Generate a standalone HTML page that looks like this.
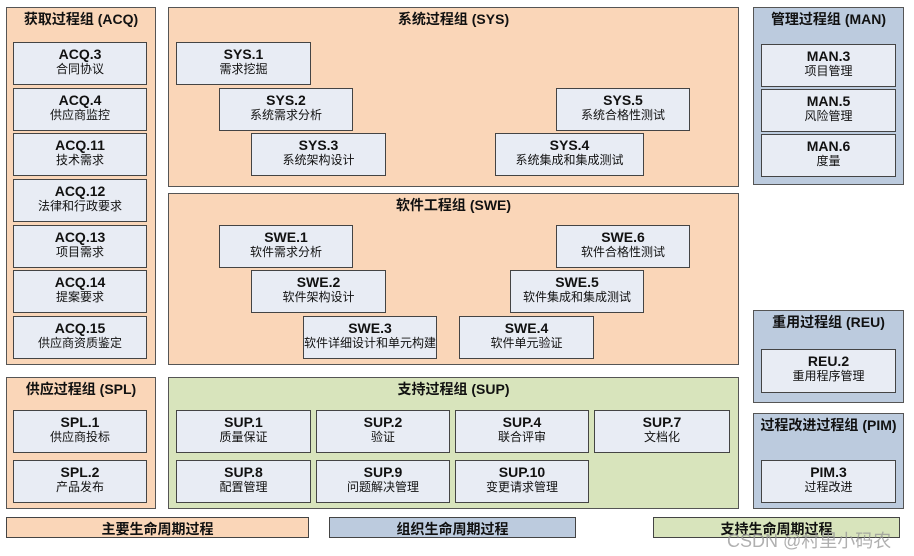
<!DOCTYPE html>
<html><head><meta charset="utf-8"><style>
body{margin:0;width:914px;height:556px;background:#fff;position:relative;overflow:hidden;font-family:"Liberation Sans","Noto Sans CJK SC",sans-serif;}
.g{position:absolute;border:1.5px solid #555;box-sizing:border-box;}
.o{background:#fad6b8}.b{background:#bccbde}.gr{background:#d8e4bc}
.t{position:absolute;left:0;right:0;top:1px;text-align:center;font-weight:bold;font-size:14px;color:#111}
.x{position:absolute;background:#e8ecf4;border:1.5px solid #444;box-sizing:border-box;text-align:center;color:#111;}
.x b{display:block;font-size:14px;margin-top:3px;line-height:16px}
.x span{display:block;font-size:12px;line-height:14px}
.l{position:absolute;border:1.5px solid #444;box-sizing:border-box;text-align:center;font-weight:bold;font-size:14px;line-height:22px;color:#111}
</style></head><body>
<div class="g o" style="left:6px;top:7px;width:150px;height:358px"><div class="t">获取过程组 (ACQ)</div></div>
<div class="g o" style="left:168px;top:7px;width:571px;height:180px"><div class="t">系统过程组 (SYS)</div></div>
<div class="g o" style="left:168px;top:193px;width:571px;height:172px"><div class="t">软件工程组 (SWE)</div></div>
<div class="g b" style="left:753px;top:7px;width:151px;height:178px"><div class="t">管理过程组 (MAN)</div></div>
<div class="g b" style="left:753px;top:310px;width:151px;height:93px"><div class="t">重用过程组 (REU)</div></div>
<div class="g b" style="left:753px;top:413px;width:151px;height:96px"><div class="t">过程改进过程组 (PIM)</div></div>
<div class="g o" style="left:6px;top:377px;width:150px;height:132px"><div class="t">供应过程组 (SPL)</div></div>
<div class="g gr" style="left:168px;top:377px;width:571px;height:132px"><div class="t">支持过程组 (SUP)</div></div>

<div class="x" style="left:13px;top:42px;width:134px;height:43px"><b>ACQ.3</b><span>合同协议</span></div>
<div class="x" style="left:13px;top:88px;width:134px;height:43px"><b>ACQ.4</b><span>供应商监控</span></div>
<div class="x" style="left:13px;top:133px;width:134px;height:43px"><b>ACQ.11</b><span>技术需求</span></div>
<div class="x" style="left:13px;top:179px;width:134px;height:43px"><b>ACQ.12</b><span>法律和行政要求</span></div>
<div class="x" style="left:13px;top:225px;width:134px;height:43px"><b>ACQ.13</b><span>项目需求</span></div>
<div class="x" style="left:13px;top:270px;width:134px;height:43px"><b>ACQ.14</b><span>提案要求</span></div>
<div class="x" style="left:13px;top:316px;width:134px;height:43px"><b>ACQ.15</b><span>供应商资质鉴定</span></div>

<div class="x" style="left:176px;top:42px;width:135px;height:43px"><b>SYS.1</b><span>需求挖掘</span></div>
<div class="x" style="left:219px;top:88px;width:134px;height:43px"><b>SYS.2</b><span>系统需求分析</span></div>
<div class="x" style="left:251px;top:133px;width:135px;height:43px"><b>SYS.3</b><span>系统架构设计</span></div>
<div class="x" style="left:556px;top:88px;width:134px;height:43px"><b>SYS.5</b><span>系统合格性测试</span></div>
<div class="x" style="left:495px;top:133px;width:149px;height:43px"><b>SYS.4</b><span>系统集成和集成测试</span></div>

<div class="x" style="left:219px;top:225px;width:134px;height:43px"><b>SWE.1</b><span>软件需求分析</span></div>
<div class="x" style="left:251px;top:270px;width:135px;height:43px"><b>SWE.2</b><span>软件架构设计</span></div>
<div class="x" style="left:303px;top:316px;width:134px;height:43px"><b>SWE.3</b><span>软件详细设计和单元构建</span></div>
<div class="x" style="left:556px;top:225px;width:134px;height:43px"><b>SWE.6</b><span>软件合格性测试</span></div>
<div class="x" style="left:510px;top:270px;width:134px;height:43px"><b>SWE.5</b><span>软件集成和集成测试</span></div>
<div class="x" style="left:459px;top:316px;width:135px;height:43px"><b>SWE.4</b><span>软件单元验证</span></div>

<div class="x" style="left:761px;top:44px;width:135px;height:43px"><b>MAN.3</b><span>项目管理</span></div>
<div class="x" style="left:761px;top:89px;width:135px;height:43px"><b>MAN.5</b><span>风险管理</span></div>
<div class="x" style="left:761px;top:134px;width:135px;height:43px"><b>MAN.6</b><span>度量</span></div>
<div class="x" style="left:761px;top:349px;width:135px;height:44px"><b>REU.2</b><span>重用程序管理</span></div>
<div class="x" style="left:761px;top:460px;width:135px;height:43px"><b>PIM.3</b><span>过程改进</span></div>

<div class="x" style="left:13px;top:410px;width:134px;height:43px"><b>SPL.1</b><span>供应商投标</span></div>
<div class="x" style="left:13px;top:460px;width:134px;height:43px"><b>SPL.2</b><span>产品发布</span></div>

<div class="x" style="left:176px;top:410px;width:135px;height:43px"><b>SUP.1</b><span>质量保证</span></div>
<div class="x" style="left:316px;top:410px;width:134px;height:43px"><b>SUP.2</b><span>验证</span></div>
<div class="x" style="left:455px;top:410px;width:134px;height:43px"><b>SUP.4</b><span>联合评审</span></div>
<div class="x" style="left:594px;top:410px;width:136px;height:43px"><b>SUP.7</b><span>文档化</span></div>
<div class="x" style="left:176px;top:460px;width:135px;height:43px"><b>SUP.8</b><span>配置管理</span></div>
<div class="x" style="left:316px;top:460px;width:134px;height:43px"><b>SUP.9</b><span>问题解决管理</span></div>
<div class="x" style="left:455px;top:460px;width:134px;height:43px"><b>SUP.10</b><span>变更请求管理</span></div>

<div class="l o" style="left:6px;top:517px;width:303px;height:21px">主要生命周期过程</div>
<div class="l b" style="left:329px;top:517px;width:247px;height:21px">组织生命周期过程</div>
<div class="l gr" style="left:653px;top:517px;width:247px;height:21px">支持生命周期过程</div>
<div style="position:absolute;left:727px;top:527px;font-size:18px;color:rgba(150,150,150,0.75);white-space:nowrap">CSDN @村里小码农</div>
</body></html>
